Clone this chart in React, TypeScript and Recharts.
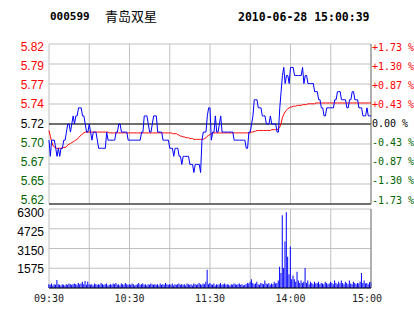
import { ComposedChart, Line, Bar, XAxis, YAxis, CartesianGrid, ReferenceLine } from "recharts";

const stockCode = "000599";
const stockName = "青岛双星";
const stamp = "2010-06-28 15:00:39";
const prevClose = 5.72;
const pctRange = 1.73;

const priceTickLabels = ["5.82", "5.79", "5.77", "5.74", "5.72", "5.70", "5.67", "5.65", "5.62"];
const pctTickLabels = ["+1.73 %", "+1.30 %", "+0.87 %", "+0.43 %", "0.00 %", "-0.43 %", "-0.87 %", "-1.30 %", "-1.73 %"];
const volTicks = [1575, 3150, 4725, 6300];
const volMax = 6300;
const timeTicks = [0, 60, 120, 180, 240];
const timeLabels = ["09:30", "10:30", "11:30", "14:00", "15:00"];

// one value per minute, 09:30-11:30 then 13:01-15:00
const price = [
  5.70, 5.68, 5.70, 5.70, 5.70, 5.69, 5.68, 5.69, 5.68, 5.69,
  5.69, 5.70, 5.70, 5.71, 5.72, 5.72, 5.71, 5.72, 5.73, 5.72,
  5.73, 5.73, 5.74, 5.74, 5.74, 5.73, 5.73, 5.72, 5.71, 5.71,
  5.72, 5.71, 5.70, 5.71, 5.71, 5.71, 5.70, 5.69, 5.69, 5.69,
  5.69, 5.69, 5.69, 5.71, 5.70, 5.70, 5.70, 5.70, 5.70, 5.70,
  5.71, 5.71, 5.72, 5.72, 5.71, 5.71, 5.71, 5.71, 5.71, 5.70,
  5.70, 5.70, 5.70, 5.70, 5.70, 5.70, 5.70, 5.70, 5.70, 5.71,
  5.71, 5.73, 5.73, 5.73, 5.72, 5.71, 5.71, 5.72, 5.73, 5.73,
  5.73, 5.71, 5.71, 5.71, 5.71, 5.70, 5.70, 5.70, 5.70, 5.70,
  5.69, 5.69, 5.69, 5.68, 5.69, 5.69, 5.69, 5.68, 5.68, 5.67,
  5.68, 5.68, 5.68, 5.68, 5.68, 5.67, 5.67, 5.67, 5.66, 5.67,
  5.67, 5.67, 5.67, 5.66, 5.70, 5.71, 5.71, 5.71, 5.73, 5.74,
  5.74,
  5.70, 5.71, 5.71, 5.73, 5.71, 5.71, 5.72, 5.73, 5.71, 5.71,
  5.71, 5.71, 5.71, 5.71, 5.71, 5.71, 5.71, 5.70, 5.70, 5.70,
  5.70, 5.70, 5.70, 5.70, 5.70, 5.70, 5.69, 5.69, 5.71, 5.71,
  5.72, 5.73, 5.75, 5.75, 5.75, 5.74, 5.74, 5.74, 5.73, 5.73,
  5.73, 5.72, 5.72, 5.72, 5.73, 5.72, 5.72, 5.72, 5.72, 5.71,
  5.71, 5.74, 5.76, 5.78, 5.79, 5.77, 5.78, 5.78, 5.77, 5.79,
  5.79, 5.79, 5.78, 5.78, 5.78, 5.78, 5.78, 5.78, 5.79, 5.77,
  5.78, 5.78, 5.77, 5.77, 5.77, 5.77, 5.77, 5.76, 5.76, 5.76,
  5.75, 5.75, 5.74, 5.74, 5.73, 5.73, 5.74, 5.74, 5.74, 5.74,
  5.74, 5.74, 5.75, 5.75, 5.76, 5.76, 5.76, 5.75, 5.75, 5.75,
  5.75, 5.74, 5.74, 5.75, 5.75, 5.76, 5.76, 5.75, 5.75, 5.75,
  5.74, 5.74, 5.74, 5.73, 5.73, 5.73, 5.74, 5.73, 5.73, 5.73,
];

const avgPrice = [
  5.712, 5.705, 5.698, 5.693, 5.692, 5.690, 5.690, 5.690, 5.690, 5.690,
  5.690, 5.691, 5.691, 5.692, 5.694, 5.695, 5.696, 5.697, 5.698, 5.699,
  5.700, 5.701, 5.703, 5.705, 5.706, 5.708, 5.709, 5.710, 5.710, 5.710,
  5.710, 5.710, 5.710, 5.710, 5.710, 5.710, 5.710, 5.710, 5.710, 5.710,
  5.710, 5.710, 5.710, 5.710, 5.710, 5.709, 5.709, 5.709, 5.709, 5.709,
  5.709, 5.709, 5.709, 5.709, 5.709, 5.709, 5.709, 5.709, 5.709, 5.709,
  5.709, 5.709, 5.709, 5.709, 5.709, 5.709, 5.709, 5.709, 5.709, 5.709,
  5.709, 5.709, 5.709, 5.709, 5.709, 5.709, 5.709, 5.709, 5.709, 5.709,
  5.709, 5.709, 5.709, 5.709, 5.709, 5.709, 5.709, 5.709, 5.709, 5.709,
  5.709, 5.709, 5.708, 5.708, 5.708, 5.708, 5.707, 5.706, 5.705, 5.705,
  5.704, 5.704, 5.703, 5.703, 5.703, 5.702, 5.702, 5.702, 5.701, 5.701,
  5.701, 5.701, 5.701, 5.701, 5.701, 5.701, 5.702, 5.703, 5.705, 5.706,
  5.707,
  5.708, 5.709, 5.709, 5.709, 5.709, 5.709, 5.709, 5.709, 5.709, 5.709,
  5.709, 5.709, 5.709, 5.709, 5.709, 5.709, 5.709, 5.709, 5.709, 5.709,
  5.709, 5.709, 5.709, 5.709, 5.709, 5.709, 5.709, 5.709, 5.709, 5.709,
  5.710, 5.710, 5.711, 5.711, 5.712, 5.712, 5.712, 5.712, 5.712, 5.712,
  5.712, 5.712, 5.712, 5.712, 5.712, 5.713, 5.713, 5.713, 5.713, 5.713,
  5.714, 5.716, 5.721, 5.728, 5.732, 5.735, 5.737, 5.739, 5.740, 5.741,
  5.741, 5.742, 5.742, 5.742, 5.743, 5.743, 5.743, 5.743, 5.744, 5.744,
  5.744, 5.744, 5.745, 5.745, 5.745, 5.745, 5.745, 5.745, 5.746, 5.746,
  5.746, 5.746, 5.746, 5.746, 5.746, 5.746, 5.746, 5.746, 5.746, 5.746,
  5.746, 5.746, 5.746, 5.746, 5.746, 5.746, 5.746, 5.746, 5.746, 5.746,
  5.746, 5.746, 5.746, 5.746, 5.746, 5.746, 5.746, 5.746, 5.746, 5.746,
  5.746, 5.746, 5.746, 5.746, 5.746, 5.746, 5.746, 5.746, 5.746, 5.746,
];

const volume = [
  300, 250, 350, 200, 300, 250, 640, 300, 250, 200,
  300, 250, 200, 300, 250, 350, 300, 250, 300, 350,
  300, 250, 400, 300, 350, 500, 300, 560, 250, 500,
  300, 250, 300, 200, 350, 300, 250, 300, 250, 400,
  300, 250, 300, 350, 200, 250, 300, 250, 350, 300,
  400, 250, 300, 200, 350, 300, 250, 400, 300, 250,
  300, 250, 350, 300, 200, 250, 300, 400, 250, 300,
  350, 250, 300, 200, 300, 250, 350, 300, 250, 300,
  250, 300, 200, 350, 250, 300, 250, 400, 300, 250,
  300, 250, 350, 200, 300, 250, 300, 350, 250, 300,
  250, 300, 200, 350, 300, 250, 300, 200, 350, 300,
  250, 300, 400, 300, 250, 350, 300, 500, 1450, 300,
  400,
  300, 250, 350, 200, 300, 250, 300, 400, 250, 300,
  350, 250, 300, 250, 200, 300, 250, 350, 300, 250,
  300, 350, 250, 300, 200, 250, 300, 400, 350, 500,
  700, 400, 300, 350, 500, 300, 250, 400, 350, 300,
  600, 350, 300, 400, 250, 350, 300, 500, 350, 400,
  600, 1700, 1200, 5800, 1600, 3700, 6050, 2500, 1100, 3300,
  700, 1000, 700, 500, 1300, 600, 400, 600, 400, 500,
  1600, 400, 600, 300, 500, 400, 300, 500, 350, 400,
  500, 300, 400, 350, 300, 500, 400, 300, 350, 500,
  400, 300, 600, 400, 300, 500, 350, 600, 400, 300,
  500, 400, 300, 600, 350, 300, 500, 400, 300, 400,
  350, 500, 1200, 400, 600, 350, 400, 300, 450, 500,
];

const lo = prevClose * (1 - pctRange / 100);
const hi = prevClose * (1 + pctRange / 100);
const priceTicks = priceTickLabels.map((_, k) => hi - (k * (hi - lo)) / 8);
const pctTicks = pctTickLabels.map((_, k) => pctRange - (k * 2 * pctRange) / 8);

const grid = "#c0c0c0";
const green = "#006400";
const mono = "'DejaVu Sans Mono', 'Liberation Mono', monospace";
const sans = "'Liberation Sans', Arial, sans-serif";

const rowColor = (k: number) => (k < 4 ? "#ff0000" : k === 4 ? "#000000" : green);

const nearest = (arr: number[], v: number) => {
  let best = 0;
  arr.forEach((t, k) => {
    if (Math.abs(t - v) < Math.abs(arr[best] - v)) best = k;
  });
  return best;
};

const PriceTick = (props: any) => {
  const k = nearest(priceTicks, props.payload.value);
  return (
    <text x={44} y={props.y + 3 - 0.875 * k} textAnchor="end" dominantBaseline="central"
      fill={rowColor(k)} fontSize={12} fontFamily={sans}>
      {priceTickLabels[k]}
    </text>
  );
};

const PctTick = (props: any) => {
  const k = nearest(pctTicks, props.payload.value);
  return (
    <text x={372} y={props.y + 3 - 0.875 * k} textAnchor="start" dominantBaseline="central"
      fill={rowColor(k)} fontSize={10} fontFamily={mono}>
      {pctTickLabels[k]}
    </text>
  );
};

const VolTick = (props: any) => {
  const k = volTicks.length - 1 - nearest(volTicks, props.payload.value);
  return (
    <text x={44} y={props.y + 4 - k} textAnchor="end" dominantBaseline="central"
      fill="#000" fontSize={12} fontFamily={sans}>
      {props.payload.value}
    </text>
  );
};

// volume chart svg starts at page y 205; labels sit at page y ~298
const TimeTick = (props: any) => {
  const k = nearest(timeTicks, props.payload.value);
  const dx = k === timeTicks.length - 1 ? -4 : 0;
  return (
    <text x={props.x + dx} y={93} textAnchor="middle" dominantBaseline="central"
      fill="#222" fontSize={10} fontFamily={mono}>
      {timeLabels[k]}
    </text>
  );
};

const vGrid = ({ offset }: any) =>
  [0, 1, 2, 3, 4, 5, 6, 7, 8].map((k) => offset.left + (k * offset.width) / 8);

export default function App() {
  const rows = price.map((p, i) => ({ i, p, a: avgPrice[i], v: volume[i] }));

  return (
    <div style={{ position: "fixed", left: 0, top: 0, width: 414, height: 314, background: "#fff" }}>
      <div style={{ position: "absolute", left: 50, top: 10, font: `bold 11px ${mono}`, color: "#000", whiteSpace: "pre" }}>
        {stockCode}
      </div>
      <div style={{ position: "absolute", left: 105, top: 8, fontSize: 13, fontFamily: "'Noto Sans CJK SC'", color: "#000", lineHeight: "16px" }}>
        {stockName}
      </div>
      <div style={{ position: "absolute", left: 238, top: 10, font: `bold 11.5px ${mono}`, color: "#000" }}>
        {stamp}
      </div>

      <div style={{ position: "absolute", left: 0, top: 0 }}>
        <ComposedChart width={414} height={210} data={rows} margin={{ top: 44, right: 0, bottom: 6, left: 0 }}>
          <CartesianGrid stroke={grid} verticalCoordinatesGenerator={vGrid} />
          <XAxis dataKey="i" type="number" domain={[0, 240]} hide />
          <YAxis type="number" domain={[lo, hi]} ticks={priceTicks} interval={0} width={49} axisLine={false}
            tickLine={false} tickSize={0} tick={PriceTick} allowDataOverflow />
          <YAxis yAxisId="pct" orientation="right" type="number" domain={[-pctRange, pctRange]}
            ticks={pctTicks} interval={0} width={43} axisLine={false} tickLine={false} tickSize={0} tick={PctTick}
            allowDataOverflow />
          <ReferenceLine y={prevClose} stroke="#000" />
          <ReferenceLine y={lo} stroke="#000" />
          <ReferenceLine x={240} stroke="#808080" />
          <Line dataKey="a" stroke="#ff0000" dot={false} strokeWidth={1} isAnimationActive={false} />
          <Line dataKey="p" stroke="#0000ff" dot={false} strokeWidth={1} isAnimationActive={false} />
        </ComposedChart>
      </div>

      <div style={{ position: "absolute", left: 0, top: 205 }}>
        <ComposedChart width={414} height={109} data={rows} margin={{ top: 4, right: 43, bottom: 0, left: 0 }}>
          <CartesianGrid stroke={grid} verticalCoordinatesGenerator={vGrid} />
          <XAxis dataKey="i" type="number" domain={[0, 240]} ticks={timeTicks} interval={0} height={26}
            axisLine={{ stroke: "#000" }} tickLine={false} tick={TimeTick} />
          <YAxis type="number" domain={[0, volMax]} ticks={volTicks} interval={0} width={49} axisLine={false}
            tickLine={false} tickSize={0} tick={VolTick} />
          <ReferenceLine x={240} stroke="#808080" />
          <Bar dataKey="v" fill="#0000ff" barSize={1} isAnimationActive={false} />
        </ComposedChart>
      </div>
    </div>
  );
}
